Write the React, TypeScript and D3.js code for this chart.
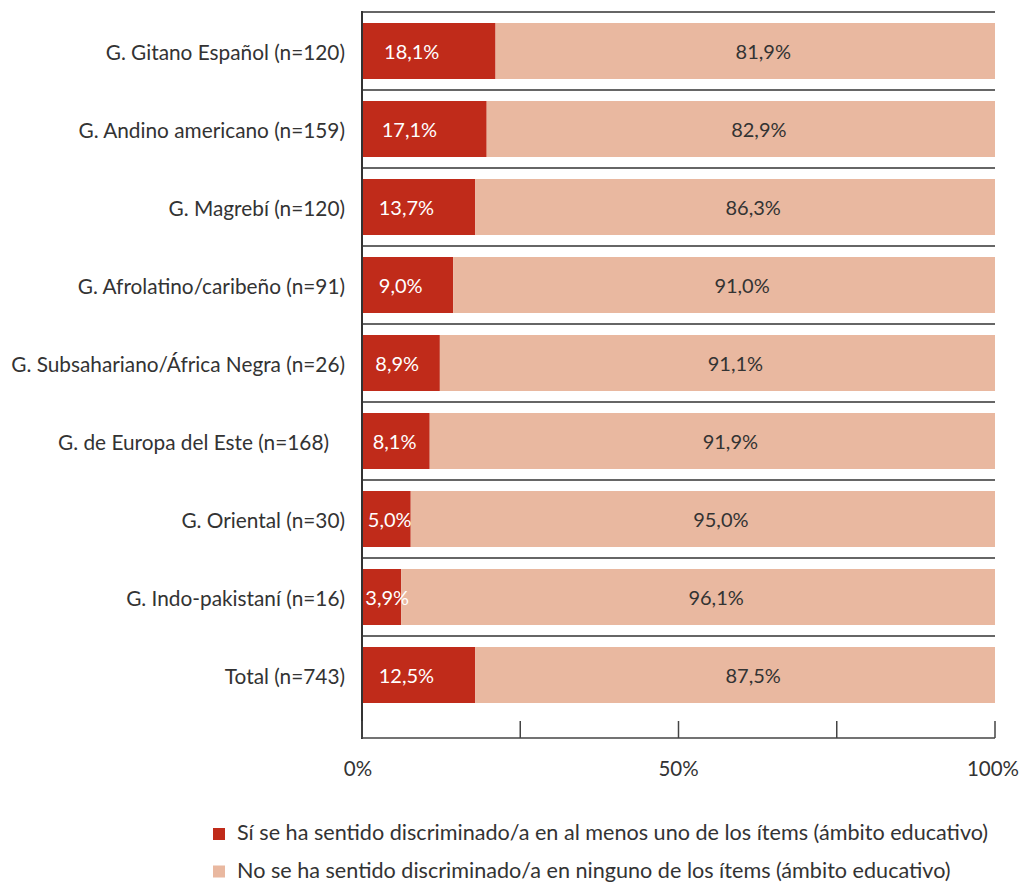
import React from "react";
import * as d3 from "d3";

const categories = [
  "G. Gitano Español (n=120)",
  "G. Andino americano (n=159)",
  "G. Magrebí (n=120)",
  "G. Afrolatino/caribeño (n=91)",
  "G. Subsahariano/África Negra (n=26)",
  "G. de Europa del Este (n=168)   ",
  "G. Oriental (n=30)",
  "G. Indo-pakistaní (n=16)",
  "Total (n=743)",
];
// printed labels
const yesLabels = ["18,1%", "17,1%", "13,7%", "9,0%", "8,9%", "8,1%", "5,0%", "3,9%", "12,5%"];
const noLabels = ["81,9%", "82,9%", "86,3%", "91,0%", "91,1%", "91,9%", "95,0%", "96,1%", "87,5%"];
// red bar length as drawn in the picture (percent of the 0–100% axis)
const yesDrawn = [21.1, 19.7, 17.9, 14.4, 12.3, 10.7, 7.7, 6.2, 17.9];
const tickValues = [0, 25, 50, 75, 100];
const tickLabels: Record<number, string> = { 0: "0%", 50: "50%", 100: "100%" };
const legendItems = [
  "Sí se ha sentido discriminado/a en al menos uno de los ítems (ámbito educativo)",
  "No se ha sentido discriminado/a en ninguno de los ítems (ámbito educativo)",
];

const RED = "#C02B1A";
const LIGHT = "#E9B8A0";
const TEXT = "#333333";
const FONT = "Lato, 'Open Sans', sans-serif";

export default function App() {
  const W = 1019;
  const H = 883;
  const x = d3.scaleLinear().domain([0, 100]).range([362, 995]);
  const pad = 22 / 78;
  const y = d3
    .scaleBand<string>()
    .domain(categories)
    .range([12, 714])
    .paddingInner(pad)
    .paddingOuter(pad / 2);
  const bw = y.bandwidth();
  const sepOffset = (y.step() * pad) / 2;
  const axisY = 738;

  return (
    <svg
      width={W}
      height={H}
      style={{ position: "absolute", left: 0, top: 0, fontFamily: FONT }}
    >
      <rect width={W} height={H} fill="#fff" />
      {/* separators */}
      {categories.map((c) => (
        <line
          key={"s" + c}
          x1={x(0)}
          x2={x(100)}
          y1={(y(c) as number) - sepOffset}
          y2={(y(c) as number) - sepOffset}
          stroke="#666"
          strokeWidth={1.8}
        />
      ))}
      {/* bars */}
      {categories.map((c, i) => {
        const y0 = y(c) as number;
        const xr = x(yesDrawn[i]);
        const w = xr - x(0);
        const redCx = x(0) + 15 + 0.26 * w;
        const lightCx = (xr + x(100)) / 2 + 18;
        const cy = y0 + bw / 2;
        return (
          <g key={c}>
            <rect x={x(0)} y={y0} width={w} height={bw} fill={RED} />
            <rect x={xr} y={y0} width={x(100) - xr} height={bw} fill={LIGHT} />
            <text x={redCx} y={cy + 8} textAnchor="middle" fill="#fff" fontSize={20}>
              {yesLabels[i]}
            </text>
            <text x={lightCx} y={cy + 8} textAnchor="middle" fill={TEXT} fontSize={20}>
              {noLabels[i]}
            </text>
            <text
              x={345}
              y={cy + 9}
              textAnchor="end"
              fill={TEXT}
              fontSize={20.8}
              style={{ whiteSpace: "pre" }}
            >
              {c}
            </text>
          </g>
        );
      })}
      {/* axes */}
      <line x1={x(0)} x2={x(0)} y1={11} y2={axisY + 1} stroke="#333" strokeWidth={2} />
      <line x1={x(0)} x2={x(100)} y1={axisY} y2={axisY} stroke="#444" strokeWidth={1.5} />
      {tickValues.map((t) => (
        <g key={"t" + t}>
          <line x1={x(t)} x2={x(t)} y1={721} y2={axisY} stroke="#444" strokeWidth={1.5} />
          {tickLabels[t] && (
            <text
              x={x(t) - (t === 0 ? 4 : t === 100 ? 2 : 0)}
              y={776}
              textAnchor="middle"
              fill={TEXT}
              fontSize={20.5}
            >
              {tickLabels[t]}
            </text>
          )}
        </g>
      ))}
      {/* legend */}
      {legendItems.map((l, i) => (
        <g key={l}>
          <rect x={213} y={828 + i * 37.5} width={12} height={12} fill={i === 0 ? RED : LIGHT} />
          <text x={237} y={840 + i * 37.5} fill={TEXT} fontSize={21.6}>
            {l}
          </text>
        </g>
      ))}
    </svg>
  );
}
